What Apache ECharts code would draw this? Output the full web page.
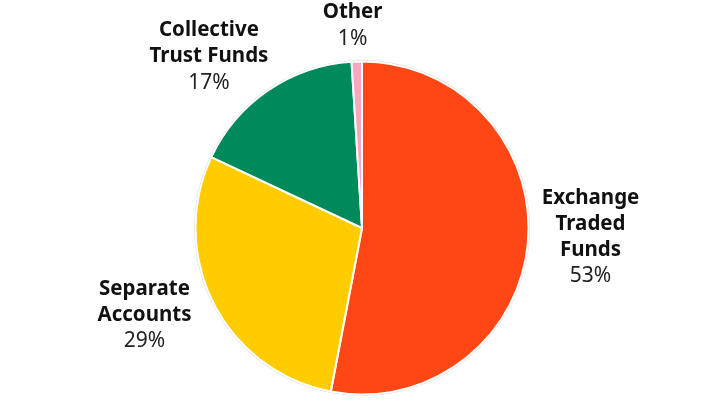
<!DOCTYPE html>
<html><head><meta charset="utf-8">
<script src="https://cdn.jsdelivr.net/npm/echarts@6/dist/echarts.min.js"></script>
<style>html,body{margin:0;padding:0;background:#fff}#c{width:720px;height:405px}</style>
</head><body><div id="c"></div>
<script>
const categories = ['Exchange\nTraded\nFunds', 'Separate\nAccounts', 'Collective\nTrust Funds', 'Other'];
const values = [53, 29, 17, 1];
const colors = ['#FF4715', '#FFCC00', '#008A5B', '#F7A8BC'];
const labelShift = [[1, -7], [-10, 8], [40, -59], [31, -28]];

const chart = echarts.init(document.getElementById('c'));
chart.setOption({
  animation: false,
  series: [
    {
      type: 'pie', silent: true, center: [362, 228], radius: [0, 168],
      data: [{ value: 1, itemStyle: { color: '#d9d9d9' } }],
      label: { show: false }, labelLine: { show: false }, z: 1
    },
    {
      type: 'pie', center: [362, 228], radius: [0, 166.5], startAngle: 90, clockwise: true,
      z: 2,
      data: categories.map((c, i) => ({ name: c, value: values[i], itemStyle: { color: colors[i] } })),
      itemStyle: { borderColor: '#fff', borderWidth: 2 },
      label: {
        show: true, position: 'outside', alignTo: 'none',
        formatter: p => '{b|' + p.name + '}\n{v|' + p.value + '%}',
        rich: {
          b: { fontFamily: 'Noto Sans', fontWeight: 'bold', fontSize: 20.5, lineHeight: 26, color: '#111', align: 'center' },
          v: { fontFamily: 'Noto Sans', fontSize: 21, lineHeight: 26, color: '#222', align: 'center' }
        },
        align: 'center'
      },
      labelLine: { show: false, length: 8, length2: 0 },
      labelLayout: p => ({ dx: labelShift[p.dataIndex][0], dy: labelShift[p.dataIndex][1] })
    }
  ]
});
</script></body></html>
